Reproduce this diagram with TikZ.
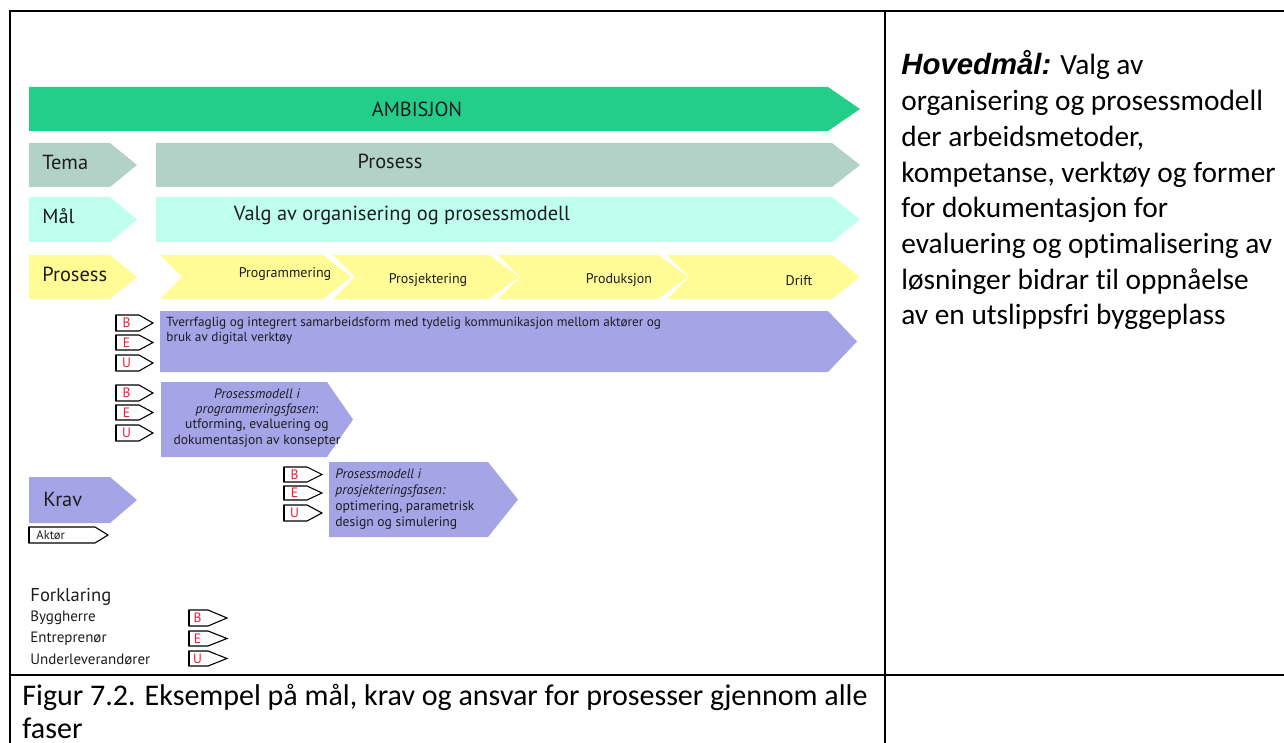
\documentclass[tikz,border=0pt]{standalone}
\usepackage{fontspec}
\setmainfont{Carlito}[Ligatures=CommonOff]
\newfontfamily\diag{PT Sans}
\newfontfamily\arialfam{Liberation Sans}

\definecolor{ambgreen}{RGB}{34,206,138}
\definecolor{temagrey}{RGB}{178,210,199}
\definecolor{malcyan}{RGB}{191,255,238}
\definecolor{proyellow}{RGB}{255,252,150}
\definecolor{kravblue}{RGB}{164,164,230}
\definecolor{tagred}{RGB}{237,28,58}
\definecolor{txt}{RGB}{30,28,32}

% plain arrow bar: style, x left, y top, x body end, x tip, y bottom
\newcommand\arrowbar[6]{%
  \fill[#1] (#2,#3) -- (#4,#3) -- (#5,{(#3+#6)/2}) -- (#4,#6) -- (#2,#6) -- cycle;}
% chevron with notched tail: style, x left, x notch, y top, x body end, x tip, y bottom
\newcommand\notchbar[7]{%
  \fill[#1] (#2,#4) -- (#5,#4) -- (#6,{(#4+#7)/2}) -- (#5,#7) -- (#2,#7) -- (#3,{(#4+#7)/2}) -- cycle;}
% outlined actor tag: name, letter, x left, y top, x body end, x tip, y bottom
\newcommand\actortag[7]{%
  \draw[tagline] (#3,#4) -- (#5,#4) -- (#6,{(#4+#7)/2}) -- (#5,#7) -- (#3,#7) -- cycle;
  \draw[line width=0.9pt] (#3,#4) -- (#3,#7);
  \node[tagletter] (#1) at ({(#3+#5)/2-1},{(#4+#7)/2}) {#2};}

\tikzset{
  lbl/.style={font=\diag, text=txt, inner sep=0pt},
  big/.style={lbl, font=\diag\fontsize{10.2}{12}\selectfont},
  phase/.style={lbl, font=\diag\fontsize{7}{8}\selectfont},
  tagline/.style={draw=black, line width=0.55pt, fill=white, line join=miter},
  tagletter/.style={font=\diag\fontsize{6.8}{7}\selectfont, text=tagred, inner sep=0pt},
  rule/.style={line width=1pt, black},
  cellline/.style={inner sep=0pt, anchor=base west, font=\fontsize{14.67}{17.85}\selectfont, text=black},
  capline/.style={inner sep=0pt, anchor=base west, font=\fontsize{15}{16.5}\selectfont, text=black}
}

\begin{document}
\begin{tikzpicture}[x=0.5pt, y=-0.5pt]
\useasboundingbox (0,0) rectangle (1284,743);

% table rules
\draw[rule] (10,11) -- (1284,11);
\draw[rule] (10,675) -- (1284,675);
\draw[rule] (10,10) -- (10,743);
\draw[line width=0.8pt] (885,11) -- (885,743);

% ambition bar
\arrowbar{ambgreen}{29}{87}{828}{860}{131}
\node[big] (ambisjon) at (417,109) {AMBISJON};

% theme row
\arrowbar{temagrey}{29}{143}{110}{137}{187}
\node[big, anchor=west] (tema) at (42,162) {Tema};
\arrowbar{temagrey}{156}{143}{832}{860}{187}
\node[big] (prosessbar) at (390,161) {Prosess};

% goal row
\arrowbar{malcyan}{29}{197}{110}{137}{242}
\node[big, anchor=west] (maal) at (42,216) {Mål};
\arrowbar{malcyan}{156}{197}{832}{860}{242}
\node[big] (valg) at (402,215) {Valg av organisering og prosessmodell};

% process row
\arrowbar{proyellow}{29}{255}{110}{137}{299}
\node[big, anchor=west] (prosess) at (42,274) {Prosess};
\notchbar{proyellow}{160}{182}{255}{323}{351}{299}
\notchbar{proyellow}{333}{355}{255}{489}{519}{299}
\notchbar{proyellow}{498}{520}{255}{658}{688}{299}
\notchbar{proyellow}{667}{689}{255}{832}{860}{299}
\node[phase] (programmering) at (285,274) {Programmering};
\node[phase] (prosjektering) at (428,280) {Prosjektering};
\node[phase] (produksjon) at (619,280) {Produksjon};
\node[phase] (drift) at (799,281) {Drift};

% requirement 1: across all phases
\arrowbar{kravblue}{160}{311}{828}{857}{372}
\node[lbl, anchor=north west, align=left, font=\diag\fontsize{6.6}{7.6}\selectfont] (tverrfaglig) at (166,317)
  {Tverrfaglig og integrert samarbeidsform med tydelig kommunikasjon mellom aktører og\\bruk av digital verktøy};
\actortag{b1}{B}{116}{315}{139}{153}{331}
\actortag{e1}{E}{116}{335}{139}{153}{350}
\actortag{u1}{U}{116}{355}{139}{153}{371}

% requirement 2: programming phase
\arrowbar{kravblue}{161}{382}{327}{353}{457}
\node[lbl, align=center, font=\diag\fontsize{6.8}{7.6}\selectfont] (prog) at (257,418)
  {\itshape Prosessmodell i\\\itshape programmeringsfasen\upshape:\\utforming, evaluering og\\dokumentasjon av konsepter};
\actortag{b2}{B}{116}{385}{139}{153}{401}
\actortag{e2}{E}{116}{405}{139}{153}{420}
\actortag{u2}{U}{116}{425}{139}{153}{441}

% requirement 3: design phase
\arrowbar{kravblue}{329}{462}{488}{518}{537}
\node[lbl, anchor=west, align=left, font=\diag\fontsize{6.8}{8.1}\selectfont] (prosj) at (335,499)
  {\itshape Prosessmodell i\\\itshape prosjekteringsfasen:\\optimering, parametrisk\\design og simulering};
\actortag{b3}{B}{284}{467}{307}{322}{482}
\actortag{e3}{E}{284}{486}{307}{322}{500}
\actortag{u3}{U}{284}{505}{307}{322}{521}

% requirement label and actor tag
\arrowbar{kravblue}{29}{477}{110}{137}{523}
\node[big, anchor=west] (krav) at (43,499) {Krav};
\draw[tagline] (29,527) -- (95,527) -- (108,535) -- (95,543) -- (29,543) -- cycle;
\draw[line width=0.9pt] (29,527) -- (29,543);
\node[lbl, anchor=west, font=\diag\fontsize{6.3}{8}\selectfont] (aktor) at (36,535) {Aktør};

% legend
\node[lbl, anchor=west, font=\diag\fontsize{9.3}{11}\selectfont] (forklaring) at (30,597) {Forklaring};
\node[lbl, anchor=west, font=\diag\fontsize{7.5}{9}\selectfont] (byggherre) at (30,618) {Byggherre};
\node[lbl, anchor=west, font=\diag\fontsize{7.5}{9}\selectfont] (entreprenor) at (30,639) {Entreprenør};
\node[lbl, anchor=west, font=\diag\fontsize{7.5}{9}\selectfont] (underlev) at (30,659) {Underleverandører};
\actortag{bl}{B}{189}{610}{208}{227}{626}
\actortag{el}{E}{189}{631}{208}{227}{646}
\actortag{ul}{U}{189}{651}{208}{227}{666}

% right cell: main goal, one node per line
\node[cellline] (hm1) at (901,75.0)  {{\arialfam\bfseries\itshape Hovedmål:} Valg av};
\node[cellline] (hm2) at (901,110.7) {organisering og prosessmodell};
\node[cellline] (hm3) at (901,146.4) {der arbeidsmetoder,};
\node[cellline] (hm4) at (901,182.1) {kompetanse, verktøy og former};
\node[cellline] (hm5) at (901,217.8) {for dokumentasjon for};
\node[cellline] (hm6) at (901,253.5) {evaluering og optimalisering av};
\node[cellline] (hm7) at (901,289.2) {løsninger bidrar til oppnåelse};
\node[cellline] (hm8) at (901,324.9) {av en utslippsfri byggeplass};

% caption cell
\node[capline] (fig1) at (22,705) {Figur 7.2. Eksempel på mål, krav og ansvar for prosesser gjennom alle};
\node[capline] (fig2) at (22,738) {faser};
\end{tikzpicture}
\end{document}
